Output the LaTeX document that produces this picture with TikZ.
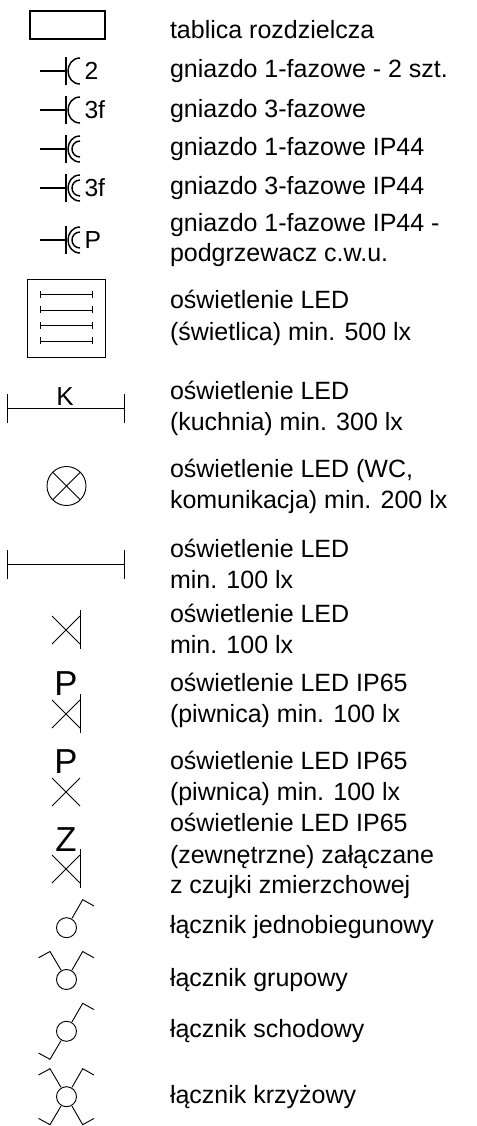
\documentclass[tikz,border=0pt]{standalone}
\usepackage{fontspec}
\setmainfont{Liberation Sans}
\tikzset{
  x=0.75pt,y=-0.75pt,
  sym/.style={draw=black,line width=0.75pt},
  thin sym/.style={draw=black,line width=0.7pt},
  lab/.style={anchor=base west,inner sep=0pt,outer sep=0pt,yshift=-0.5pt,font=\fontsize{18.75pt}{22pt}\selectfont},
  mark text/.style={anchor=base,inner sep=0pt,outer sep=0pt,font=\fontsize{26pt}{26pt}\selectfont},
  side text/.style={anchor=base west,inner sep=0pt,outer sep=0pt,font=\fontsize{18.5pt}{22pt}\selectfont},
}
\newcommand{\sockA}[1]{%
  \draw[sym,line width=1.1pt] (39.5,#1) -- (66,#1) (66,#1-14) -- (66,#1+14);
  \draw[sym,line width=1.1pt] (80,#1-13) .. controls (72,#1-13) and (68,#1-6) .. (68,#1) .. controls (68,#1+6) and (72,#1+13) .. (80,#1+13);
}
\newcommand{\sockB}[1]{%
  \sockA{#1}
  \draw[sym,line width=1.1pt] (80,#1-8) .. controls (75,#1-8) and (72,#1-4) .. (72,#1) .. controls (72,#1+4) and (75,#1+8) .. (80,#1+8);
}
\newcommand{\crossmark}[1]{\draw[thin sym] (52,#1-14) -- (80,#1+14) (52,#1+14) -- (80,#1-14);}
\newcommand{\crossbar}[1]{\crossmark{#1}\draw[thin sym] (80,#1-20) -- (80,#1+19);}
\newcommand{\swc}[1]{\draw[thin sym] (66.5,#1) circle[radius=10];}
\newcommand{\swUR}[1]{\draw[thin sym] (72,#1-9.4) -- (82.7,#1-28) -- (94,#1-21.7);}
\newcommand{\swUL}[1]{\draw[thin sym] (61,#1-9.4) -- (50,#1-28) -- (38.5,#1-21.7);}
\newcommand{\swLL}[1]{\draw[thin sym] (61,#1+9.4) -- (50,#1+28) -- (38.5,#1+21.7);}
\newcommand{\swLR}[1]{\draw[thin sym] (72,#1+9.4) -- (82.7,#1+28) -- (94,#1+21.7);}
\begin{document}
\begin{tikzpicture}
\useasboundingbox (0,0) rectangle (477,1126);
\draw[sym,line width=1.5pt] (30,11) rectangle (105,39);
\sockA{71}\sockA{110}\sockB{149}\sockB{188}\sockB{240}
\node[side text] (t2) at (84.5,80) {2};
\node[side text] (t3) at (84.5,118.7) {3f};
\node[side text] (t4) at (84.5,196.7) {3f};
\node[side text] (t5) at (84.5,248.3) {P};
\draw[thin sym] (27,279) rectangle (105.5,357);
\foreach \yy in {294.5,310,325.5,341}{
  \draw[thin sym] (40.5,\yy) -- (92.5,\yy) (40.5,\yy-3.5) -- (40.5,\yy+3.5) (92.5,\yy-3.5) -- (92.5,\yy+3.5);
}
\draw[thin sym] (7.5,408) -- (124.5,408) (7.5,394) -- (7.5,423) (124.5,394) -- (124.5,423);
\node[mark text,font=\fontsize{19.5pt}{20pt}\selectfont] (k) at (65,405) {K};
\draw[thin sym] (66.5,486) circle[radius=19.5];
\draw[thin sym] (52.7,472.2) -- (80.3,499.8) (52.7,499.8) -- (80.3,472.2);
\draw[thin sym] (7.5,564.5) -- (124.5,564.5) (7.5,550) -- (7.5,579) (124.5,550) -- (124.5,579);
\crossbar{630}
\node[mark text] (p1) at (66,695.5) {P};
\crossbar{714}
\node[mark text] (p2) at (66,773.5) {P};
\crossmark{792}
\node[mark text] (z) at (66,851) {Z};
\crossbar{869}
\swc{927.7}\swUR{927.7}
\swc{979.5}\swUR{979.5}\swUL{979.5}
\swc{1031.3}\swUR{1031.3}\swLL{1031.3}
\swc{1096.7}\swUR{1096.7}\swUL{1096.7}\swLL{1096.7}\swLR{1096.7}
\node[lab] (a) at (170,37.7) {tablica rozdzielcza};
\node[lab] (b) at (170,77.3) {gniazdo 1-fazowe - 2 szt.};
\node[lab] (c) at (170,116.7) {gniazdo 3-fazowe};
\node[lab] (d) at (170,155) {gniazdo 1-fazowe IP44};
\node[lab] (e) at (170,194.3) {gniazdo 3-fazowe IP44};
\node[lab] (f1) at (170,231) {gniazdo 1-fazowe IP44 -};
\node[lab] (f2) at (170,261.3) {podgrzewacz c.w.u.};
\node[lab] (g1) at (170,308.3) {oświetlenie LED};
\node[lab] (g2) at (170,340) {(świetlica) min. 500 lx};
\node[lab] (h1) at (170,399.3) {oświetlenie LED};
\node[lab] (h2) at (170,430) {(kuchnia) min. 300 lx};
\node[lab] (i1) at (170,477.3) {oświetlenie LED (WC,};
\node[lab] (i2) at (170,508.3) {komunikacja) min. 200 lx};
\node[lab] (j1) at (170,556.7) {oświetlenie LED};
\node[lab] (j2) at (170,588.3) {min. 100 lx};
\node[lab] (l1) at (170,622.3) {oświetlenie LED};
\node[lab] (l2) at (170,653.3) {min. 100 lx};
\node[lab] (m1) at (170,690.7) {oświetlenie LED IP65};
\node[lab] (m2) at (170,722.3) {(piwnica) min. 100 lx};
\node[lab] (n1) at (170,769) {oświetlenie LED IP65};
\node[lab] (n2) at (170,800) {(piwnica) min. 100 lx};
\node[lab] (o1) at (170,831) {oświetlenie LED IP65};
\node[lab] (o2) at (170,863.3) {(zewnętrzne) załączane};
\node[lab] (o3) at (170,892.7) {z czujki zmierzchowej};
\node[lab] (q) at (170,933.3) {łącznik jednobiegunowy};
\node[lab] (r) at (170,985.7) {łącznik grupowy};
\node[lab] (s) at (170,1037.3) {łącznik schodowy};
\node[lab] (u) at (170,1103.3) {łącznik krzyżowy};
\end{tikzpicture}
\end{document}
